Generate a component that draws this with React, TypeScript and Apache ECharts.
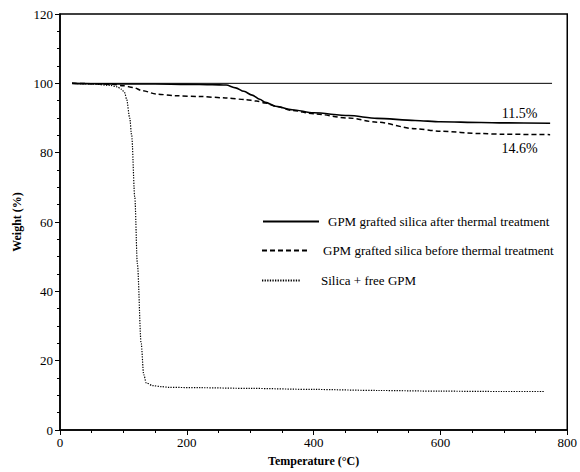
import React, { useEffect, useRef } from "react";
import * as echarts from "echarts";

const nameAfter = "GPM grafted silica after thermal treatment";
const nameBefore = "GPM grafted silica before thermal treatment";
const nameSilica = "Silica + free GPM";

const afterTemp = [19, 50, 100, 150, 200, 240, 262, 277, 290, 303, 315, 324, 340, 366, 400, 455, 500, 560, 600, 664, 700, 773];
const afterWeight = [100, 99.9, 99.8, 99.8, 99.7, 99.6, 99.5, 98.7, 97.7, 96.6, 95.4, 94.5, 93.4, 92.4, 91.5, 90.7, 89.9, 89.3, 88.9, 88.7, 88.6, 88.5];

const beforeTemp = [19, 50, 83, 100, 115, 130, 152, 183, 220, 261, 293, 310, 324, 340, 366, 400, 455, 500, 560, 600, 664, 700, 773];
const beforeWeight = [100, 99.9, 99.7, 99.3, 98.8, 97.9, 96.9, 96.4, 96.2, 95.8, 95.3, 94.9, 94.3, 93.4, 92.2, 91.2, 90.0, 88.8, 86.9, 86.2, 85.5, 85.3, 85.2];

const silicaTemp = [19, 50, 80, 90, 97, 102, 105, 110, 113, 118, 122, 128, 132, 136, 146, 160, 172, 220, 300, 400, 502, 600, 700, 763];
const silicaWeight = [100, 99.8, 99.4, 99.0, 98.3, 97.3, 95.5, 90, 85, 67, 48, 25, 16, 13.6, 12.8, 12.5, 12.3, 12.2, 12.0, 11.7, 11.4, 11.2, 11.1, 11.1];

const baselineTemp = [19, 776];
const baselineWeight = [100, 100];

const lossLabels = ["11.5%", "14.6%"];
const lossLabelPos = [[725, 91.2], [725, 81.2]];

const xTicks = [0, 800];
const yTicks = [0, 120];

const zip = (xs: number[], ys: number[]) => xs.map((x, i) => [x, ys[i]]);

const FONT = "'Liberation Serif', 'Times New Roman', serif";

const lossMark = (i: number) => ({
  symbol: "circle",
  symbolSize: 1,
  itemStyle: { color: "rgba(0,0,0,0)" },
  data: [{ coord: lossLabelPos[i], value: lossLabels[i] }],
  label: {
    show: true,
    position: "inside",
    formatter: lossLabels[i],
    fontFamily: FONT,
    fontSize: 14,
    color: "#000",
  },
});

export default function App() {
  const ref = useRef<HTMLDivElement>(null);
  useEffect(() => {
    if (!ref.current) return;
    document.body.style.margin = "0";
    const chart = echarts.init(ref.current, null, { renderer: "svg" });
    const legendText = { fontFamily: FONT, fontSize: 13, color: "#000" };
    const legendItem = { color: "rgba(0,0,0,0)", borderColor: "rgba(0,0,0,0)", borderWidth: 0, opacity: 0 };
    chart.setOption({
      animation: false,
      backgroundColor: "#fff",
      grid: { left: 60, right: 10, top: 14, bottom: 37, show: true, borderColor: "#000", borderWidth: 1.5 },
      xAxis: {
        type: "value",
        min: xTicks[0],
        max: xTicks[1],
        interval: 200,
        name: "Temperature (°C)",
        nameLocation: "middle",
        nameGap: 25,
        nameTextStyle: { fontFamily: FONT, fontSize: 12, fontWeight: "bold", color: "#000" },
        axisLine: { lineStyle: { color: "#000", width: 1.5 } },
        axisTick: { show: true, length: 5, lineStyle: { color: "#000", width: 1 } },
        minorTick: { show: true, splitNumber: 4, length: 3, lineStyle: { color: "#000", width: 1 } },
        axisLabel: { fontFamily: FONT, fontSize: 13, color: "#000", margin: 6 },
        splitLine: { show: false },
      },
      yAxis: {
        type: "value",
        min: yTicks[0],
        max: yTicks[1],
        interval: 20,
        name: "Weight (%)",
        nameLocation: "middle",
        nameGap: 37,
        nameTextStyle: { fontFamily: FONT, fontSize: 12, fontWeight: "bold", color: "#000" },
        axisLine: { show: true, lineStyle: { color: "#000", width: 1.5 } },
        axisTick: { show: true, length: 5, lineStyle: { color: "#000", width: 1 } },
        minorTick: { show: true, splitNumber: 4, length: 3, lineStyle: { color: "#000", width: 1 } },
        axisLabel: { fontFamily: FONT, fontSize: 13, color: "#000", margin: 7 },
        splitLine: { show: false },
      },
      legend: [
        {
          data: [nameAfter], left: 262, top: 215, itemWidth: 56, itemHeight: 14, padding: 0,
          itemStyle: legendItem,
          textStyle: { ...legendText, padding: [0, 0, 0, 4] },
        },
        {
          data: [nameBefore], left: 261, top: 244, itemWidth: 47, itemHeight: 14, padding: 0,
          itemStyle: legendItem,
          textStyle: { ...legendText, padding: [0, 0, 0, 9] },
        },
        {
          data: [nameSilica], left: 261, top: 274, itemWidth: 39, itemHeight: 14, padding: 0,
          itemStyle: legendItem,
          textStyle: { ...legendText, padding: [0, 0, 0, 15] },
        },
      ],
      series: [
        {
          name: "baseline",
          type: "line",
          data: zip(baselineTemp, baselineWeight),
          showSymbol: false,
          symbol: "none",
          silent: true,
          lineStyle: { color: "#000", width: 1 },
        },
        {
          name: nameAfter,
          type: "line",
          data: zip(afterTemp, afterWeight),
          smooth: 0.3,
          smoothMonotone: "x",
          symbol: "none",
          lineStyle: { color: "#000", width: 1.6, type: "solid" },
          itemStyle: { color: "#000" },
          markPoint: lossMark(0),
        },
        {
          name: nameBefore,
          type: "line",
          data: zip(beforeTemp, beforeWeight),
          smooth: 0.3,
          smoothMonotone: "x",
          symbol: "none",
          lineStyle: { color: "#000", width: 1.5, type: [5, 3] },
          itemStyle: { color: "#000" },
          markPoint: lossMark(1),
        },
        {
          name: nameSilica,
          type: "line",
          data: zip(silicaTemp, silicaWeight),
          smooth: 0.3,
          smoothMonotone: "x",
          symbol: "none",
          lineStyle: { color: "#000", width: 1.2, type: [1.3, 1.3] },
          itemStyle: { color: "#000" },
        },
      ],
    });
    return () => chart.dispose();
  }, []);
  return <div ref={ref} style={{ width: 580, height: 472 }} />;
}
